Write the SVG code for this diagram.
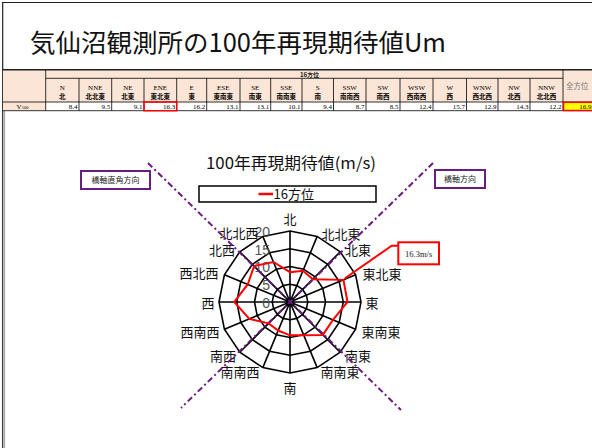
<svg xmlns="http://www.w3.org/2000/svg" width="592" height="448" viewBox="0 0 592 448">
<style>
.jp{font-family:"Noto Sans CJK JP","Noto Sans",sans-serif;}
.ser{font-family:"Liberation Serif","Noto Sans CJK JP",serif;}
.hd{fill:#FBE5D6;}
.grid{fill:none;stroke:#000;stroke-width:0.8;}
.en{font-family:"Liberation Serif",serif;font-size:7px;text-anchor:middle;}
.ja{font-family:"Noto Sans CJK JP",sans-serif;font-size:6.5px;font-weight:bold;text-anchor:middle;}
.val{font-family:"Liberation Serif",serif;font-size:7px;text-anchor:end;}
.ring{fill:none;stroke:#000;stroke-width:1.6;}
.dir{font-family:"Noto Sans CJK JP",sans-serif;font-size:13px;fill:#111;text-anchor:middle;}
.sc{font-family:"Liberation Sans","Noto Sans",sans-serif;font-size:14px;fill:#555;text-anchor:end;}
.axis{fill:none;stroke:#6A1B7E;stroke-width:2;stroke-dasharray:6 3 2 3;}
.tag{fill:#fff;stroke:#6A1B7E;stroke-width:2;}
.tagt{font-family:"Noto Sans CJK JP",sans-serif;font-size:8px;fill:#222;text-anchor:middle;}
</style>

<g id="frame">
<line x1="2" y1="2.5" x2="592" y2="2.5" stroke="#222" stroke-width="1.2"/>
<line x1="2.7" y1="2" x2="2.7" y2="448" stroke="#222" stroke-width="1.2"/>
<line x1="4.6" y1="70" x2="4.6" y2="448" stroke="#888" stroke-width="0.8"/>
</g>

<g id="title">
<text x="30" y="52" class="jp" font-size="25" fill="#111" textLength="416" lengthAdjust="spacingAndGlyphs">気仙沼観測所の100年再現期待値Um</text>
</g>

<g id="table">
<rect class="hd" x="3" y="70" width="589" height="32"/>
<rect class="hd" x="3" y="102" width="42.7" height="8.7"/>
<rect x="45.7" y="102" width="517.3" height="8.7" fill="#fff"/>
<line x1="2" y1="69.8" x2="592" y2="69.8" stroke="#222" stroke-width="1.5"/>
<path class="grid" d="M45.7 78.3H563 M3 102H592 M3 110.7H592 M45.7 70V110.7 M563 70V110.7
M79 78.3V110.7 M111.7 78.3V110.7 M144 78.3V110.7 M176.7 78.3V110.7 M206.7 78.3V110.7 M240 78.3V110.7 M270.7 78.3V110.7 M302 78.3V110.7 M333.5 78.3V110.7 M366 78.3V110.7 M400 78.3V110.7 M433 78.3V110.7 M466.5 78.3V110.7 M498 78.3V110.7 M530 78.3V110.7"/>
<text x="300" y="76.5" font-family="Noto Sans CJK JP,sans-serif" font-size="6" font-weight="bold" fill="#222">16方位</text>
<text x="566" y="89" font-family="Noto Sans CJK JP,sans-serif" font-size="7.5" fill="#777">全方位</text>
<text x="22.5" y="108.8" class="en" font-size="6.5">V<tspan font-size="4.5">100</tspan></text>

<text x="62.3" y="89.5" class="en">N</text><text x="62.3" y="99" class="ja">北</text>
<text x="95.3" y="89.5" class="en">NNE</text><text x="95.3" y="99" class="ja">北北東</text>
<text x="127.8" y="89.5" class="en">NE</text><text x="127.8" y="99" class="ja">北東</text>
<text x="160.3" y="89.5" class="en">ENE</text><text x="160.3" y="99" class="ja">東北東</text>
<text x="191.7" y="89.5" class="en">E</text><text x="191.7" y="99" class="ja">東</text>
<text x="223.3" y="89.5" class="en">ESE</text><text x="223.3" y="99" class="ja">東南東</text>
<text x="255.3" y="89.5" class="en">SE</text><text x="255.3" y="99" class="ja">南東</text>
<text x="286.3" y="89.5" class="en">SSE</text><text x="286.3" y="99" class="ja">南南東</text>
<text x="317.7" y="89.5" class="en">S</text><text x="317.7" y="99" class="ja">南</text>
<text x="349.7" y="89.5" class="en">SSW</text><text x="349.7" y="99" class="ja">南南西</text>
<text x="383" y="89.5" class="en">SW</text><text x="383" y="99" class="ja">南西</text>
<text x="416.5" y="89.5" class="en">WSW</text><text x="416.5" y="99" class="ja">西南西</text>
<text x="449.7" y="89.5" class="en">W</text><text x="449.7" y="99" class="ja">西</text>
<text x="482.2" y="89.5" class="en">WNW</text><text x="482.2" y="99" class="ja">西北西</text>
<text x="514" y="89.5" class="en">NW</text><text x="514" y="99" class="ja">北西</text>
<text x="546.5" y="89.5" class="en">NNW</text><text x="546.5" y="99" class="ja">北北西</text>

<text x="77.5" y="108.8" class="val">8.4</text>
<text x="110.2" y="108.8" class="val">9.5</text>
<text x="142.5" y="108.8" class="val">9.1</text>
<text x="175.2" y="108.8" class="val">16.3</text>
<text x="205.2" y="108.8" class="val">16.2</text>
<text x="238.5" y="108.8" class="val">13.1</text>
<text x="269.2" y="108.8" class="val">13.1</text>
<text x="300.5" y="108.8" class="val">10.1</text>
<text x="332" y="108.8" class="val">9.4</text>
<text x="364.5" y="108.8" class="val">8.7</text>
<text x="398.5" y="108.8" class="val">8.5</text>
<text x="431.5" y="108.8" class="val">12.4</text>
<text x="465" y="108.8" class="val">15.7</text>
<text x="496.5" y="108.8" class="val">12.9</text>
<text x="528.5" y="108.8" class="val">14.3</text>
<text x="561.5" y="108.8" class="val">12.2</text>
<rect x="144" y="102" width="32.7" height="8.7" fill="none" stroke="#FF0000" stroke-width="1.5"/>
<rect x="563.5" y="102.3" width="30" height="8.2" fill="#FFFF00" stroke="#FF0000" stroke-width="1.5"/>
<text x="591.5" y="108.8" class="val">16.9</text>
</g>

<g id="chart-title">
<text x="291" y="169" class="jp" font-size="16" fill="#111" text-anchor="middle" textLength="170" lengthAdjust="spacingAndGlyphs">100年再現期待値(m/s)</text>
</g>

<g id="legend">
<rect x="199" y="186" width="177" height="16" fill="#fff" stroke="#000" stroke-width="1.5"/>
<line x1="258.5" y1="194" x2="273" y2="194" stroke="#FF0000" stroke-width="2.5"/>
<text x="273.5" y="199" class="jp" font-size="13" fill="#111">16方位</text>
</g>

<g id="radar-grid" transform="translate(290,302)">
<polygon class="ring" points="0,-71 27.17,-65.6 50.2,-50.2 65.6,-27.17 71,0 65.6,27.17 50.2,50.2 27.17,65.6 0,71 -27.17,65.6 -50.2,50.2 -65.6,27.17 -71,0 -65.6,-27.17 -50.2,-50.2 -27.17,-65.6"/>
<polygon class="ring" points="0,-53.25 20.38,-49.2 37.65,-37.65 49.2,-20.38 53.25,0 49.2,20.38 37.65,37.65 20.38,49.2 0,53.25 -20.38,49.2 -37.65,37.65 -49.2,20.38 -53.25,0 -49.2,-20.38 -37.65,-37.65 -20.38,-49.2"/>
<polygon class="ring" points="0,-35.5 13.59,-32.8 25.1,-25.1 32.8,-13.59 35.5,0 32.8,13.59 25.1,25.1 13.59,32.8 0,35.5 -13.59,32.8 -25.1,25.1 -32.8,13.59 -35.5,0 -32.8,-13.59 -25.1,-25.1 -13.59,-32.8"/>
<polygon class="ring" points="0,-17.75 6.79,-16.4 12.55,-12.55 16.4,-6.79 17.75,0 16.4,6.79 12.55,12.55 6.79,16.4 0,17.75 -6.79,16.4 -12.55,12.55 -16.4,6.79 -17.75,0 -16.4,-6.79 -12.55,-12.55 -6.79,-16.4"/>
<path class="ring" d="M0,-71L0,71 M27.17,-65.6L-27.17,65.6 M50.2,-50.2L-50.2,50.2 M65.6,-27.17L-65.6,27.17 M71,0L-71,0 M65.6,27.17L-65.6,-27.17 M50.2,50.2L-50.2,-50.2 M27.17,65.6L-27.17,-65.6"/>
</g>

<g id="scale-labels">
<text x="270" y="237" class="sc">20</text>
<text x="270" y="255" class="sc">15</text>
<text x="270" y="272" class="sc">10</text>
<text x="270" y="290" class="sc">5</text>
<text x="270" y="307.5" class="sc">0</text>
</g>

<g id="direction-labels">
<text x="290" y="223.5" class="dir">北</text>
<text x="341" y="239" class="dir">北北東</text>
<text x="358" y="255" class="dir">北東</text>
<text x="382" y="279" class="dir">東北東</text>
<text x="372" y="308" class="dir">東</text>
<text x="381" y="336.5" class="dir">東南東</text>
<text x="358" y="361" class="dir">南東</text>
<text x="340" y="377" class="dir">南南東</text>
<text x="290" y="393" class="dir">南</text>
<text x="240" y="377" class="dir">南南西</text>
<text x="223" y="361" class="dir">南西</text>
<text x="200" y="336.5" class="dir">西南西</text>
<text x="208" y="308" class="dir">西</text>
<text x="199" y="278" class="dir">西北西</text>
<text x="222" y="255" class="dir">北西</text>
<text x="239" y="238" class="dir">北北西</text>
</g>

<g id="connectors">
<line class="axis" x1="148" y1="163" x2="401" y2="410"/>
<line class="axis" x1="433" y1="163" x2="181" y2="408"/>
<polyline points="345,278.3 391.7,245.7 398,245.7" fill="none" stroke="#FF0000" stroke-width="2"/>
</g>

<g id="series-16">
<polygon transform="translate(290,302)" fill="none" stroke="#FF0000" stroke-width="2" stroke-linejoin="miter" points="0,-29.82 12.91,-31.16 22.84,-22.84 53.46,-22.14 57.51,0 42.97,17.8 32.89,32.89 13.72,33.13 0,33.37 -11.82,28.54 -21.34,21.34 -40.67,16.85 -55.74,0 -42.31,-17.53 -35.9,-35.9 -16.57,-40.01"/>
</g>

<g id="tag-cross">
<rect class="tag" x="81" y="171" width="69" height="18"/>
<text x="115.5" y="183" class="tagt">橋軸直角方向</text>
</g>
<g id="tag-axis">
<rect class="tag" x="435" y="170" width="50" height="18"/>
<text x="460" y="182" class="tagt">橋軸方向</text>
</g>
<g id="tag-value">
<rect x="398.3" y="242.3" width="40.7" height="22" fill="#fff" stroke="#FF0000" stroke-width="2"/>
<text x="418.7" y="256.5" class="ser" font-size="8.5" fill="#222" text-anchor="middle">16.3m/s</text>
</g>
</svg>
